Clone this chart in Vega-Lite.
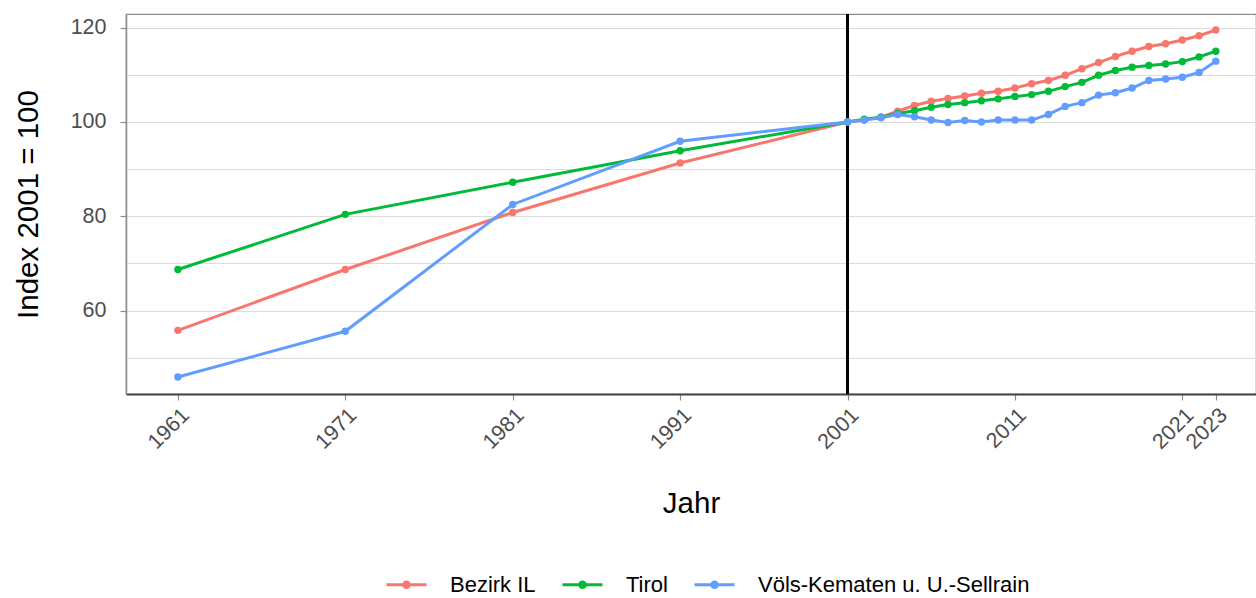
{
  "$schema": "https://vega.github.io/schema/vega-lite/v6.json",
  "width": 1130,
  "height": 380,
  "autosize": {"type": "none"},
  "padding": {"left": 126, "top": 14, "right": 0, "bottom": 204},
  "background": "white",
  "config": {
    "font": "Liberation Sans",
    "view": {"stroke": "#8C8C8C", "strokeWidth": 1.2},
    "axis": {"gridColor": "#DCDCDC", "gridWidth": 1.1, "labelFont": "Liberation Sans", "titleFont": "Liberation Sans"}
  },
  "data": {
    "values": [
      {"Jahr": 1961, "Gebiet": "Bezirk IL", "Index": 55.8},
      {"Jahr": 1971, "Gebiet": "Bezirk IL", "Index": 68.7},
      {"Jahr": 1981, "Gebiet": "Bezirk IL", "Index": 80.8},
      {"Jahr": 1991, "Gebiet": "Bezirk IL", "Index": 91.3},
      {"Jahr": 2001, "Gebiet": "Bezirk IL", "Index": 100.0},
      {"Jahr": 2002, "Gebiet": "Bezirk IL", "Index": 100.4},
      {"Jahr": 2003, "Gebiet": "Bezirk IL", "Index": 101.0},
      {"Jahr": 2004, "Gebiet": "Bezirk IL", "Index": 102.3},
      {"Jahr": 2005, "Gebiet": "Bezirk IL", "Index": 103.5},
      {"Jahr": 2006, "Gebiet": "Bezirk IL", "Index": 104.4},
      {"Jahr": 2007, "Gebiet": "Bezirk IL", "Index": 105.0},
      {"Jahr": 2008, "Gebiet": "Bezirk IL", "Index": 105.5},
      {"Jahr": 2009, "Gebiet": "Bezirk IL", "Index": 106.1},
      {"Jahr": 2010, "Gebiet": "Bezirk IL", "Index": 106.5},
      {"Jahr": 2011, "Gebiet": "Bezirk IL", "Index": 107.2},
      {"Jahr": 2012, "Gebiet": "Bezirk IL", "Index": 108.1},
      {"Jahr": 2013, "Gebiet": "Bezirk IL", "Index": 108.8},
      {"Jahr": 2014, "Gebiet": "Bezirk IL", "Index": 109.9},
      {"Jahr": 2015, "Gebiet": "Bezirk IL", "Index": 111.3},
      {"Jahr": 2016, "Gebiet": "Bezirk IL", "Index": 112.6},
      {"Jahr": 2017, "Gebiet": "Bezirk IL", "Index": 113.9},
      {"Jahr": 2018, "Gebiet": "Bezirk IL", "Index": 115.0},
      {"Jahr": 2019, "Gebiet": "Bezirk IL", "Index": 116.0},
      {"Jahr": 2020, "Gebiet": "Bezirk IL", "Index": 116.6},
      {"Jahr": 2021, "Gebiet": "Bezirk IL", "Index": 117.4},
      {"Jahr": 2022, "Gebiet": "Bezirk IL", "Index": 118.3},
      {"Jahr": 2023, "Gebiet": "Bezirk IL", "Index": 119.5},
      {"Jahr": 1961, "Gebiet": "Tirol", "Index": 68.7},
      {"Jahr": 1971, "Gebiet": "Tirol", "Index": 80.4},
      {"Jahr": 1981, "Gebiet": "Tirol", "Index": 87.2},
      {"Jahr": 1991, "Gebiet": "Tirol", "Index": 93.9},
      {"Jahr": 2001, "Gebiet": "Tirol", "Index": 100.0},
      {"Jahr": 2002, "Gebiet": "Tirol", "Index": 100.6},
      {"Jahr": 2003, "Gebiet": "Tirol", "Index": 101.0},
      {"Jahr": 2004, "Gebiet": "Tirol", "Index": 101.8},
      {"Jahr": 2005, "Gebiet": "Tirol", "Index": 102.4},
      {"Jahr": 2006, "Gebiet": "Tirol", "Index": 103.1},
      {"Jahr": 2007, "Gebiet": "Tirol", "Index": 103.7},
      {"Jahr": 2008, "Gebiet": "Tirol", "Index": 104.1},
      {"Jahr": 2009, "Gebiet": "Tirol", "Index": 104.5},
      {"Jahr": 2010, "Gebiet": "Tirol", "Index": 104.9},
      {"Jahr": 2011, "Gebiet": "Tirol", "Index": 105.4},
      {"Jahr": 2012, "Gebiet": "Tirol", "Index": 105.8},
      {"Jahr": 2013, "Gebiet": "Tirol", "Index": 106.5},
      {"Jahr": 2014, "Gebiet": "Tirol", "Index": 107.5},
      {"Jahr": 2015, "Gebiet": "Tirol", "Index": 108.4},
      {"Jahr": 2016, "Gebiet": "Tirol", "Index": 109.9},
      {"Jahr": 2017, "Gebiet": "Tirol", "Index": 110.9},
      {"Jahr": 2018, "Gebiet": "Tirol", "Index": 111.6},
      {"Jahr": 2019, "Gebiet": "Tirol", "Index": 112.0},
      {"Jahr": 2020, "Gebiet": "Tirol", "Index": 112.3},
      {"Jahr": 2021, "Gebiet": "Tirol", "Index": 112.8},
      {"Jahr": 2022, "Gebiet": "Tirol", "Index": 113.8},
      {"Jahr": 2023, "Gebiet": "Tirol", "Index": 115.0},
      {"Jahr": 1961, "Gebiet": "Völs-Kematen u. U.-Sellrain", "Index": 45.9},
      {"Jahr": 1971, "Gebiet": "Völs-Kematen u. U.-Sellrain", "Index": 55.6},
      {"Jahr": 1981, "Gebiet": "Völs-Kematen u. U.-Sellrain", "Index": 82.5},
      {"Jahr": 1991, "Gebiet": "Völs-Kematen u. U.-Sellrain", "Index": 95.9},
      {"Jahr": 2001, "Gebiet": "Völs-Kematen u. U.-Sellrain", "Index": 100.0},
      {"Jahr": 2002, "Gebiet": "Völs-Kematen u. U.-Sellrain", "Index": 100.4},
      {"Jahr": 2003, "Gebiet": "Völs-Kematen u. U.-Sellrain", "Index": 100.9},
      {"Jahr": 2004, "Gebiet": "Völs-Kematen u. U.-Sellrain", "Index": 101.6},
      {"Jahr": 2005, "Gebiet": "Völs-Kematen u. U.-Sellrain", "Index": 101.1},
      {"Jahr": 2006, "Gebiet": "Völs-Kematen u. U.-Sellrain", "Index": 100.4},
      {"Jahr": 2007, "Gebiet": "Völs-Kematen u. U.-Sellrain", "Index": 99.9},
      {"Jahr": 2008, "Gebiet": "Völs-Kematen u. U.-Sellrain", "Index": 100.3},
      {"Jahr": 2009, "Gebiet": "Völs-Kematen u. U.-Sellrain", "Index": 100.0},
      {"Jahr": 2010, "Gebiet": "Völs-Kematen u. U.-Sellrain", "Index": 100.4},
      {"Jahr": 2011, "Gebiet": "Völs-Kematen u. U.-Sellrain", "Index": 100.4},
      {"Jahr": 2012, "Gebiet": "Völs-Kematen u. U.-Sellrain", "Index": 100.4},
      {"Jahr": 2013, "Gebiet": "Völs-Kematen u. U.-Sellrain", "Index": 101.6},
      {"Jahr": 2014, "Gebiet": "Völs-Kematen u. U.-Sellrain", "Index": 103.3},
      {"Jahr": 2015, "Gebiet": "Völs-Kematen u. U.-Sellrain", "Index": 104.1},
      {"Jahr": 2016, "Gebiet": "Völs-Kematen u. U.-Sellrain", "Index": 105.7},
      {"Jahr": 2017, "Gebiet": "Völs-Kematen u. U.-Sellrain", "Index": 106.2},
      {"Jahr": 2018, "Gebiet": "Völs-Kematen u. U.-Sellrain", "Index": 107.2},
      {"Jahr": 2019, "Gebiet": "Völs-Kematen u. U.-Sellrain", "Index": 108.8},
      {"Jahr": 2020, "Gebiet": "Völs-Kematen u. U.-Sellrain", "Index": 109.1},
      {"Jahr": 2021, "Gebiet": "Völs-Kematen u. U.-Sellrain", "Index": 109.5},
      {"Jahr": 2022, "Gebiet": "Völs-Kematen u. U.-Sellrain", "Index": 110.5},
      {"Jahr": 2023, "Gebiet": "Völs-Kematen u. U.-Sellrain", "Index": 112.9}
    ]
  },
  "layer": [
    {
      "mark": {"type": "rule", "color": "black", "strokeWidth": 2},
      "encoding": {"x": {"datum": 2001, "type": "quantitative"}}
    },
    {
      "mark": {"type": "line", "strokeWidth": 3, "point": {"filled": true, "size": 55, "opacity": 1}},
      "encoding": {
        "x": {
          "field": "Jahr", "type": "quantitative",
          "scale": {"domain": [1957.9, 2025.4], "nice": false, "zero": false},
          "axis": {
            "title": "Jahr", "values": [1961, 1971, 1981, 1991, 2001, 2011, 2021, 2023],
            "format": "d", "labelAngle": -45, "labelAlign": "right", "labelBaseline": "top",
            "labelFontSize": 21.5, "labelColor": "#4D4D4D", "labelPadding": 4,
            "tickColor": "#8C8C8C", "tickSize": 6, "tickWidth": 1.2,
            "domainColor": "#444444", "domainWidth": 2,
            "titleFontSize": 29.5, "titleFontWeight": "normal", "titleColor": "black", "titlePadding": 36,
            "labelOverlap": false, "labelFlush": false
          }
        },
        "y": {
          "field": "Index", "type": "quantitative",
          "scale": {"domain": [42.3, 122.9], "nice": false, "zero": false},
          "axis": {
            "title": "Index 2001 = 100",
            "values": [50, 60, 70, 80, 90, 100, 110, 120],
            "labelExpr": "datum.value % 20 == 0 ? datum.label : ''",
            "tickOpacity": {"condition": {"test": "datum.value % 20 == 0", "value": 1}, "value": 0},
            "labelFontSize": 21.5, "labelColor": "#4D4D4D", "labelPadding": 14,
            "tickColor": "#8C8C8C", "tickSize": 6, "tickWidth": 1.2,
            "domainColor": "#8C8C8C", "domainWidth": 1.5,
            "titleFontSize": 29.5, "titleFontWeight": "normal", "titleColor": "black", "titlePadding": 27,
            "labelOverlap": false
          }
        },
        "color": {
          "field": "Gebiet", "type": "nominal",
          "scale": {"domain": ["Bezirk IL", "Tirol", "Völs-Kematen u. U.-Sellrain"], "range": ["#F8766D", "#00BA38", "#619CFF"]},
          "legend": {
            "title": null, "orient": "none", "direction": "horizontal",
            "legendX": 259, "legendY": 549,
            "symbolType": "M-1,0H1M-0.14,0A0.14,0.14,0,1,1,0.14,0A0.14,0.14,0,1,1,-0.14,0",
            "symbolSize": 1600, "symbolStrokeWidth": 3,
            "labelFontSize": 22, "labelColor": "black", "labelFont": "Liberation Sans",
            "labelOffset": 22, "columnPadding": 20, "labelLimit": 500
          }
        }
      }
    }
  ]
}
